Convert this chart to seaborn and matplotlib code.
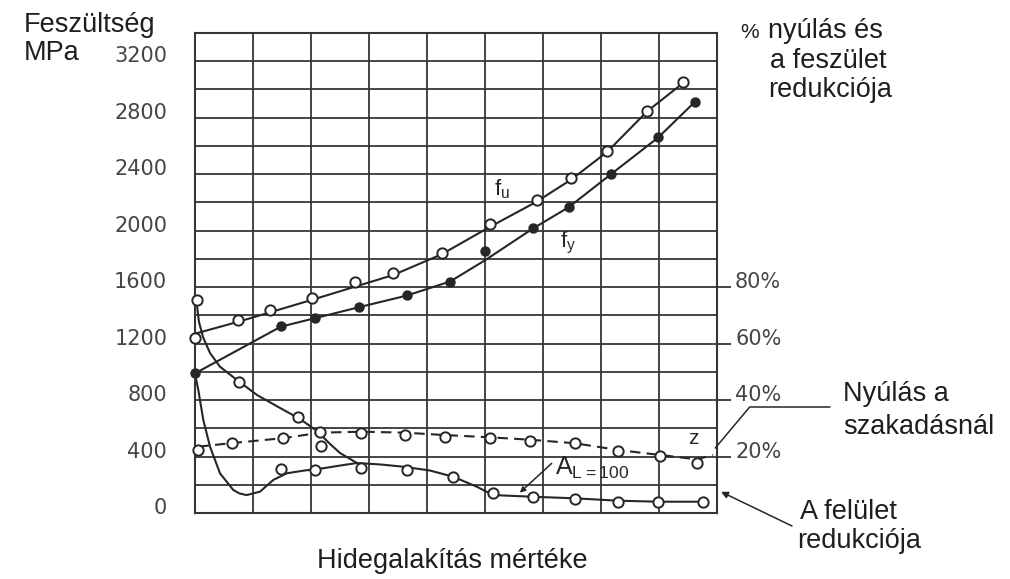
import numpy as np
import pandas as pd
import matplotlib
matplotlib.use("Agg")
import matplotlib.pyplot as plt
import seaborn as sns
from matplotlib.transforms import ScaledTranslation

# ---------------- data ----------------
# tensile strength f_u (open circles)
fu_x = [0.0, 0.74, 1.29, 2.02, 2.76, 3.41, 4.25, 5.09, 5.89, 6.49, 7.10, 7.79, 8.41]
fu_y = [1240, 1367, 1438, 1523, 1636, 1700, 1843, 2047, 2217, 2370, 2566, 2849, 3050]
fu_line_x = [0.0, 0.75, 2.01, 3.42, 4.25, 5.09, 5.89, 6.49, 7.11, 7.79, 8.41]
fu_line_y = [1270, 1355, 1509, 1686, 1832, 2028, 2205, 2363, 2559, 2843, 3044]

# yield strength f_y (filled circles)
fy_x = [0.0, 1.48, 2.07, 2.82, 3.65, 4.40, 5.00, 5.83, 6.44, 7.17, 7.99, 8.62]
fy_y = [989, 1324, 1378, 1457, 1544, 1638, 1858, 2016, 2165, 2399, 2661, 2913]
fy_line_x = [0.0, 1.48, 2.07, 2.82, 3.65, 4.40, 5.00, 5.83, 6.44, 7.17, 7.99, 8.62]
fy_line_y = [989, 1320, 1380, 1457, 1540, 1640, 1790, 2016, 2165, 2399, 2661, 2913]

# dashed curve "z" (open circles)
z_x = [0.06, 0.63, 1.52, 2.16, 2.87, 3.62, 4.31, 5.09, 5.78, 6.55, 7.30, 8.02, 8.65]
z_y = [446, 493, 529, 576, 564, 552, 540, 529, 512, 494, 441, 404, 352]
z_line_x = [0.06, 0.63, 1.52, 2.16, 2.87, 3.62, 4.31, 5.09, 5.78, 6.55, 7.30, 8.02, 8.65, 8.93]
z_line_y = [470, 495, 530, 569, 576, 569, 552, 536, 519, 494, 446, 411, 380, 411]

# steep descending curve (open circles)
c_x = [0.03, 0.75, 1.78, 2.18]
c_y = [1509, 930, 680, 475]
c_line_x = [0.029, 0.043, 0.069, 0.138, 0.259, 0.431, 0.724, 1.069, 1.466, 1.810, 2.103, 2.328, 2.500, 2.793]
c_line_y = [1509, 1438, 1353, 1247, 1133, 1036, 942, 836, 744, 666, 581, 489, 425, 354]

# lower curve A (open circles)
a_x = [1.49, 2.07, 2.87, 3.65, 4.45, 5.14, 5.83, 6.55, 7.30, 7.99, 8.76]
a_y = [309, 305, 316, 305, 257, 139, 115, 97, 80, 80, 80]
a_line_x = [0.0, 0.057, 0.143, 0.259, 0.431, 0.66, 0.77, 0.89, 1.12, 1.35, 1.58, 1.87, 2.21, 2.5,
            2.79, 3.19, 3.59, 4.05, 4.45, 4.86, 5.14, 5.83, 6.55, 7.3, 7.99, 8.76]
a_line_y = [989, 871, 659, 470, 281, 163, 138, 127, 151, 234, 281, 300, 317, 336,
            354, 344, 328, 301, 257, 186, 127, 115, 104, 87, 80, 80]

left_ticks = [0, 400, 800, 1200, 1600, 2000, 2400, 2800, 3200]
right_ticks = [400, 800, 1200, 1600]
right_labels = ["20%", "40%", "60%", "80%"]

# ---------------- style ----------------
sns.set_theme(style="white")
plt.rcParams["font.family"] = ["Liberation Sans", "DejaVu Sans"]
INK = "#262626"
GRID = "#363636"
TICKC = "#454545"

W, H = 1010, 579
fig = plt.figure(figsize=(W / 100, H / 100), dpi=100)
fig.patch.set_facecolor("white")
ax = fig.add_axes([195 / W, 1 - 513 / H, (717 - 195) / W, (513 - 33) / H])
ax.set_xlim(0, 9)
ax.set_ylim(0, 3400)

# grid
ax.set_xticks(range(0, 10))
ax.set_yticks(range(0, 3401, 200))
ax.grid(True, color=GRID, linewidth=1.3)
ax.set_axisbelow(True)
for s in ax.spines.values():
    s.set_color(GRID)
    s.set_linewidth(1.5)
ax.set_xticklabels([])
ax.set_yticklabels([str(v) if v in left_ticks else "" for v in range(0, 3401, 200)])
ax.tick_params(axis="both", length=0)
ax.tick_params(axis="y", pad=20)
off = ScaledTranslation(0, 7 / 100, fig.dpi_scale_trans)
for lab in ax.get_yticklabels():
    lab.set_fontfamily("DejaVu Sans")
    lab.set_fontsize(15)
    lab.set_color(TICKC)
    lab.set_transform(lab.get_transform() + off)

# right axis
ax2 = ax.twinx()
ax2.set_ylim(0, 3400)
ax2.set_yticks(right_ticks)
ax2.set_yticklabels(right_labels)
ax2.tick_params(axis="y", direction="out", length=10, width=1.3, color=GRID, pad=3)
for s in ax2.spines.values():
    s.set_visible(False)
ax2.grid(False)
for lab in ax2.get_yticklabels():
    lab.set_fontfamily("DejaVu Sans")
    lab.set_fontsize(15)
    lab.set_color(TICKC)
    lab.set_transform(lab.get_transform() + off)

# ---------------- curves ----------------
lw = 1.5
sns.lineplot(x=fu_line_x, y=fu_line_y, ax=ax, color=INK, linewidth=lw, sort=False, estimator=None)
sns.lineplot(x=fy_line_x, y=fy_line_y, ax=ax, color=INK, linewidth=lw, sort=False, estimator=None)
sns.lineplot(x=z_line_x, y=z_line_y, ax=ax, color=INK, linewidth=lw, sort=False, estimator=None,
             linestyle=(0, (5, 3)))
sns.lineplot(x=c_line_x, y=c_line_y, ax=ax, color=INK, linewidth=lw, sort=False, estimator=None)
sns.lineplot(x=a_line_x, y=a_line_y, ax=ax, color=INK, linewidth=lw, sort=False, estimator=None)

ms = 55
for xs, ys in [(fu_x, fu_y), (z_x, z_y), (c_x, c_y), (a_x, a_y)]:
    sns.scatterplot(x=xs, y=ys, ax=ax, marker="o", s=ms, facecolor="white",
                    edgecolor=INK, linewidth=1.4, zorder=5, clip_on=False)
sns.scatterplot(x=fy_x, y=fy_y, ax=ax, marker="o", s=42, color=INK,
                edgecolor=INK, linewidth=1, zorder=6, clip_on=False)

# ---------------- in-plot labels ----------------
ax.text(5.16, 2252, r"f$_\mathregular{u}$", fontsize=16, color=INK, ha="left", va="baseline")
ax.text(6.29, 1884, r"f$_\mathregular{y}$", fontsize=16, color=INK, ha="left", va="baseline")
ax.text(8.59, 529, "z", fontsize=15, color=INK, ha="center", va="center")
ax.text(6.2, 269, r"A$_\mathregular{L=100}$", fontsize=18, color=INK, ha="left", va="baseline")
ax.annotate("", xy=(5.60, 144), xytext=(6.15, 352),
            arrowprops=dict(arrowstyle="-|>", color=INK, lw=1.1, mutation_scale=8,
                            shrinkA=0, shrinkB=0))

# ---------------- outer texts ----------------
tc = "#1e1e1e"
FS = 19.5
fig.text(24 / W, 1 - 25 / H, "Feszültség", fontsize=FS, color=tc, ha="left", va="center")
fig.text(24 / W, 1 - 53 / H, "MPa", fontsize=FS, color=tc, ha="left", va="center")
fig.text(740 / W, 1 - 33 / H, "%", fontsize=15, color=tc, ha="left", va="center")
fig.text(768 / W, 1 - 31 / H, "nyúlás és", fontsize=FS, color=tc, ha="left", va="center")
fig.text(770 / W, 1 - 61 / H, "a feszület", fontsize=FS, color=tc, ha="left", va="center")
fig.text(768 / W, 1 - 90 / H, "redukciója", fontsize=FS, color=tc, ha="left", va="center")
fig.text(452 / W, 1 - 561 / H, "Hidegalakítás mértéke", fontsize=FS, color=tc, ha="center", va="center")

fig.text(843 / W, 1 - 394 / H, "Nyúlás a", fontsize=FS, color=tc, ha="left", va="center")
fig.text(843 / W, 1 - 427 / H, "szakadásnál", fontsize=FS, color=tc, ha="left", va="center")
fig.text(800 / W, 1 - 512 / H, "A felület", fontsize=FS, color=tc, ha="left", va="center")
fig.text(797 / W, 1 - 541 / H, "redukciója", fontsize=FS, color=tc, ha="left", va="center")

# leader lines
ax.annotate("", xy=(8.97, 460), xycoords="data",
            xytext=(830, H - 407), textcoords="figure pixels",
            arrowprops=dict(arrowstyle="-", color=INK, lw=1.1,
                            connectionstyle="angle,angleA=0,angleB=50,rad=0",
                            shrinkA=0, shrinkB=0), annotation_clip=False)
ax.annotate("", xy=(9.07, 150), xycoords="data",
            xytext=(792, H - 526), textcoords="figure pixels",
            arrowprops=dict(arrowstyle="-|>", color=INK, lw=1.1, mutation_scale=10,
                            shrinkA=0, shrinkB=0), annotation_clip=False)

fig.savefig("out.png", dpi=100, facecolor="white")
